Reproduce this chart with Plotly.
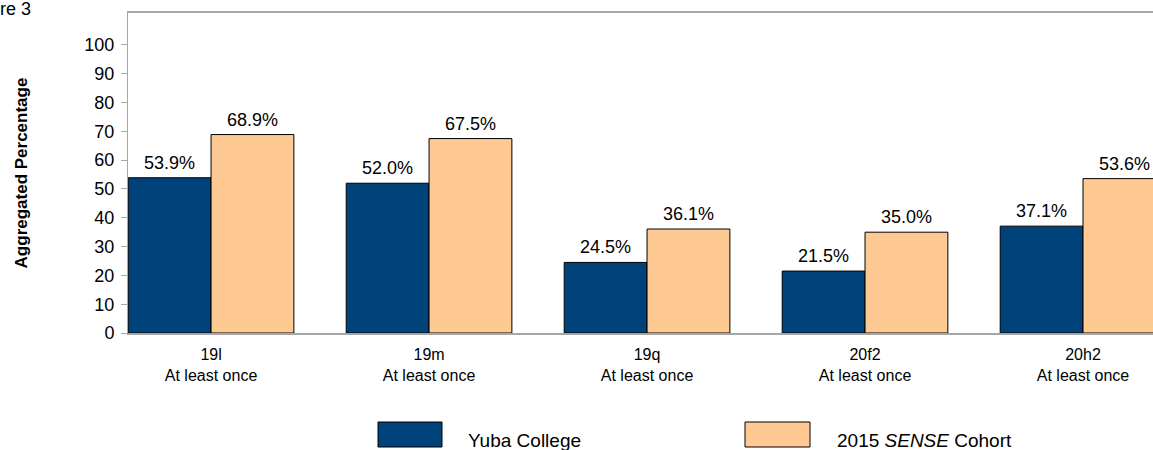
import plotly.graph_objects as go

categories = ["19l<br>At least once", "19m<br>At least once", "19q<br>At least once",
              "20f2<br>At least once", "20h2<br>At least once"]
series_names = ["Yuba College", "2015 <i>SENSE</i> Cohort"]
yuba = [53.9, 52.0, 24.5, 21.5, 37.1]
cohort = [68.9, 67.5, 36.1, 35.0, 53.6]
y_ticks = [0, 10, 20, 30, 40, 50, 60, 70, 80, 90, 100]

colors = ["#00427A", "#FFC994"]
FONT = "Liberation Sans, Arial, sans-serif"

x_idx = list(range(len(categories)))
BAR_W = 0.38
offsets = [-BAR_W, 0.0]

fig = go.Figure()
for name, vals, col, off in zip(series_names, [yuba, cohort], colors, offsets):
    fig.add_trace(go.Bar(
        x=x_idx, y=vals, name=name, width=BAR_W, offset=off,
        marker=dict(color=col, line=dict(color="#000000", width=1)),
        showlegend=False, hoverinfo="x+y",
    ))
    # value labels above the bars
    for i, v in zip(x_idx, vals):
        fig.add_annotation(x=i + off + BAR_W / 2, y=v, xref="x", yref="y",
                           text=f"{v:.1f}%", showarrow=False,
                           yanchor="bottom", yshift=3,
                           font=dict(size=18, family=FONT, color="#000000"))

T, B = 13, 117
pw, ph = 1153 - 128, 450 - T - B
base = 450 - B

fig.update_layout(
    width=1153, height=450,
    margin=dict(l=128, r=0, t=T, b=B),
    paper_bgcolor="white", plot_bgcolor="white",
    font=dict(family=FONT, size=16, color="#000000"),
    xaxis=dict(
        tickmode="array", tickvals=x_idx, ticktext=categories,
        range=[-0.381, 4.321], showgrid=False, zeroline=False,
        showline=True, linecolor="#A6A6A6", linewidth=2, mirror=True,
        ticks="", ticklabelstandoff=6,
        tickfont=dict(size=16, family=FONT, color="#000000"),
    ),
    yaxis=dict(
        range=[0, 111.1], tickvals=y_ticks, showgrid=False, zeroline=False,
        showline=True, linecolor="#A6A6A6", linewidth=1,
        ticks="outside", ticklen=6, tickcolor="#A6A6A6", ticklabelstandoff=3,
        tickfont=dict(size=18, family=FONT, color="#000000"),
        title=dict(text="<b>Aggregated Percentage</b>", standoff=52,
                   font=dict(size=17, family=FONT, color="#000000")),
    ),
)

# Figure caption (cropped at left edge in the reference)
fig.add_annotation(text="Figure 3", xref="paper", yref="paper", x=(33 - 128) / pw,
                   y=1 + (T - 9) / ph, xanchor="right", yanchor="middle", showarrow=False,
                   font=dict(size=18, family=FONT, color="#000000"))

# Custom legend with large swatches
legend_items = [(378, 442, 466), (745, 810, 835)]
for (x0, x1, tx), name, col in zip(legend_items, series_names, colors):
    fig.add_shape(type="rect", xref="paper", yref="paper",
                  x0=(x0 - 128) / pw, x1=(x1 - 128) / pw,
                  y0=(base - 447) / ph, y1=(base - 422) / ph,
                  fillcolor=col, line=dict(color="#000000", width=1))
    fig.add_annotation(text=name, xref="paper", yref="paper",
                       x=(tx - 128) / pw, y=(base - 440) / ph,
                       xanchor="left", yanchor="middle", showarrow=False,
                       font=dict(size=19, family=FONT, color="#000000"))

fig.write_html("out.html")
